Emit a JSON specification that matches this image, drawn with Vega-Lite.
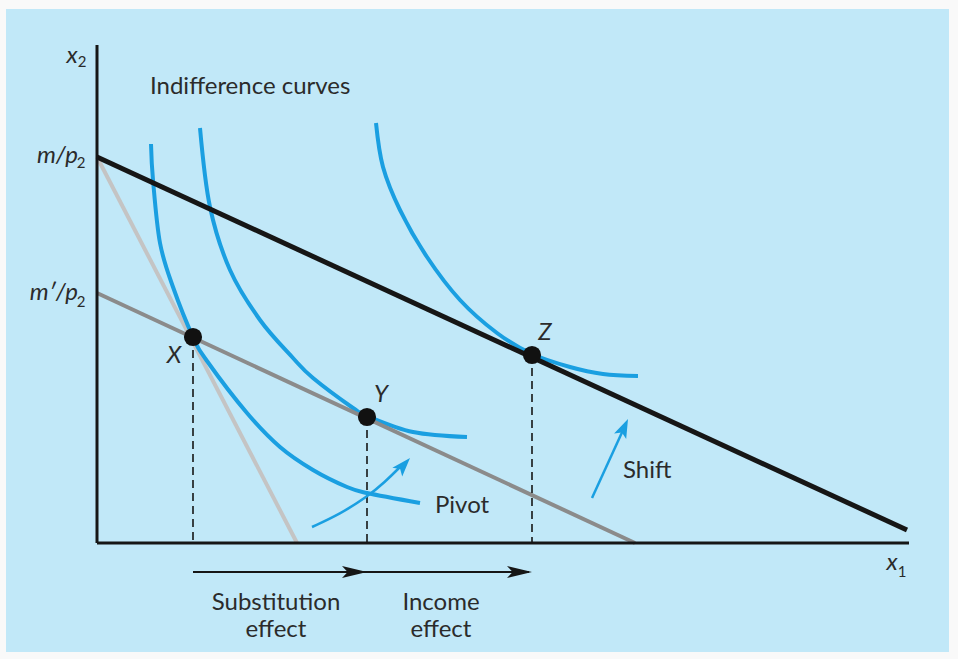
{
  "$schema": "https://vega.github.io/schema/vega-lite/v6.json",
  "width": 943,
  "height": 643,
  "autosize": {"type": "none"},
  "padding": {"left": 6, "top": 9, "right": 9, "bottom": 7},
  "background": "#f9f9f9",
  "config": {"view": {"stroke": null, "fill": "#c1e8f8"}},
  "datasets": {
    "curves": [
      {"curve": "I1", "x": 6.75, "y": 49.875},
      {"curve": "I1", "x": 7, "y": 45.375},
      {"curve": "I1", "x": 7.875, "y": 37.5},
      {"curve": "I1", "x": 9.5, "y": 32},
      {"curve": "I1", "x": 12, "y": 25.75},
      {"curve": "I1", "x": 13.75, "y": 22.75},
      {"curve": "I1", "x": 18.75, "y": 16.25},
      {"curve": "I1", "x": 22.875, "y": 12},
      {"curve": "I1", "x": 27, "y": 9.125},
      {"curve": "I1", "x": 31.25, "y": 7},
      {"curve": "I1", "x": 33.75, "y": 6.25},
      {"curve": "I1", "x": 40.375, "y": 5},
      {"curve": "I2", "x": 12.875, "y": 51.875},
      {"curve": "I2", "x": 14.125, "y": 42},
      {"curve": "I2", "x": 16.625, "y": 34.125},
      {"curve": "I2", "x": 20.375, "y": 27.875},
      {"curve": "I2", "x": 24.5, "y": 23.125},
      {"curve": "I2", "x": 27, "y": 20.625},
      {"curve": "I2", "x": 32, "y": 16.875},
      {"curve": "I2", "x": 33.75, "y": 15.875},
      {"curve": "I2", "x": 39.5, "y": 13.875},
      {"curve": "I2", "x": 46.25, "y": 13.25},
      {"curve": "I3", "x": 34.875, "y": 52.5},
      {"curve": "I3", "x": 35.75, "y": 47},
      {"curve": "I3", "x": 37.875, "y": 41.625},
      {"curve": "I3", "x": 41.25, "y": 35.75},
      {"curve": "I3", "x": 45.375, "y": 30.375},
      {"curve": "I3", "x": 50, "y": 26.25},
      {"curve": "I3", "x": 54.375, "y": 23.625},
      {"curve": "I3", "x": 59.125, "y": 22},
      {"curve": "I3", "x": 63.25, "y": 21.125},
      {"curve": "I3", "x": 67.625, "y": 20.875}
    ],
    "budget": [
      {"line": "steep", "x": 0, "y": 48.25, "x2": 25, "y2": 0},
      {"line": "compensated", "x": 0, "y": 31.25, "x2": 67.25, "y2": 0},
      {"line": "original", "x": 0, "y": 48.25, "x2": 101.25, "y2": 1.625}
    ],
    "axes": [
      {"axis": "x2", "x": 0, "y": 0, "x2": 0, "y2": 62.25},
      {"axis": "x1", "x": 0, "y": 0, "x2": 101.5, "y2": 0}
    ],
    "drops": [
      {"point": "X", "x": 12, "y": 25.75, "x2": 12, "y2": 0},
      {"point": "Y", "x": 33.75, "y": 15.75, "x2": 33.75, "y2": 0},
      {"point": "Z", "x": 54.375, "y": 23.5, "x2": 54.375, "y2": 0}
    ],
    "points": [
      {"point": "X", "x": 12, "y": 25.75},
      {"point": "Y", "x": 33.75, "y": 15.75},
      {"point": "Z", "x": 54.375, "y": 23.5}
    ],
    "pivot": [
      {"x": 26.875, "y": 2},
      {"x": 30.375, "y": 3.625},
      {"x": 33.75, "y": 5.75},
      {"x": 36, "y": 7.625},
      {"x": 37.875, "y": 9.5}
    ],
    "pivotHead": [{"x": 39.125, "y": 10.625}],
    "shift": [{"x": 61.875, "y": 5.625, "x2": 65.875, "y2": 14.375}],
    "shiftHead": [{"x": 66.375, "y": 15.5}],
    "effects": [{"x": 12, "y": -3.625, "x2": 54, "y2": -3.625}],
    "effectHeads": [
      {"effect": "substitution", "x": 33.75, "y": -3.625},
      {"effect": "income", "x": 54.375, "y": -3.625}
    ],
    "textLeft": [
      {"label": "Indifference curves", "x": 6.625, "y": 56.125},
      {"label": "Pivot", "x": 42.25, "y": 3.75},
      {"label": "Shift", "x": 65.75, "y": 8.125}
    ],
    "textCenter": [
      {"label": "Substitution", "x": 22.375, "y": -8.375},
      {"label": "effect", "x": 22.375, "y": -11.75},
      {"label": "Income", "x": 43, "y": -8.375},
      {"label": "effect", "x": 43, "y": -11.75}
    ],
    "italicRight": [
      {"label": "m/p", "x": -2.375, "y": 47.5},
      {"label": "m′/p", "x": -2.375, "y": 30.375}
    ],
    "italicCenter": [
      {"label": "x", "x": -3.125, "y": 60},
      {"label": "X", "x": 9.625, "y": 22.5},
      {"label": "Y", "x": 35.5, "y": 17.625},
      {"label": "Z", "x": 56, "y": 25.375},
      {"label": "x", "x": 99.375, "y": -3.375}
    ],
    "subscripts": [
      {"label": "2", "x": -1.875, "y": 59.5},
      {"label": "2", "x": -2.0, "y": 46.875},
      {"label": "2", "x": -2.0, "y": 29.5},
      {"label": "1", "x": 100.625, "y": -4.25}
    ]
  },
  "encoding": {
    "x": {"field": "x", "type": "quantitative", "scale": {"domain": [-11.375, 106.5], "nice": false, "zero": false}, "axis": null},
    "y": {"field": "y", "type": "quantitative", "scale": {"domain": [-13.625, 66.75], "nice": false, "zero": false}, "axis": null}
  },
  "layer": [
    {
      "data": {"name": "budget"},
      "transform": [{"filter": "datum.line === 'steep'"}],
      "mark": {"type": "rule", "color": "#c4c4c4", "strokeWidth": 4},
      "encoding": {"x2": {"field": "x2"}, "y2": {"field": "y2"}}
    },
    {
      "data": {"name": "curves"},
      "mark": {"type": "line", "color": "#1a9fe1", "strokeWidth": 4, "interpolate": "cardinal", "tension": 0},
      "encoding": {"detail": {"field": "curve", "type": "nominal"}}
    },
    {
      "data": {"name": "budget"},
      "transform": [{"filter": "datum.line === 'compensated'"}],
      "mark": {"type": "rule", "color": "#8b8b8b", "strokeWidth": 4},
      "encoding": {"x2": {"field": "x2"}, "y2": {"field": "y2"}}
    },
    {
      "data": {"name": "budget"},
      "transform": [{"filter": "datum.line === 'original'"}],
      "mark": {"type": "rule", "color": "#161616", "strokeWidth": 5},
      "encoding": {"x2": {"field": "x2"}, "y2": {"field": "y2"}}
    },
    {
      "data": {"name": "axes"},
      "mark": {"type": "rule", "color": "#161616", "strokeWidth": 3},
      "encoding": {"x2": {"field": "x2"}, "y2": {"field": "y2"}}
    },
    {
      "data": {"name": "drops"},
      "mark": {"type": "rule", "color": "#161616", "strokeWidth": 1.6, "strokeDash": [8, 5]},
      "encoding": {"x2": {"field": "x2"}, "y2": {"field": "y2"}}
    },
    {
      "data": {"name": "pivot"},
      "mark": {"type": "line", "color": "#1a9fe1", "strokeWidth": 2.5, "interpolate": "basis"},
      "encoding": {}
    },
    {
      "data": {"name": "pivotHead"},
      "mark": {"type": "point", "shape": "M0,0L0.7,2L0,1.55L-0.7,2Z", "filled": true, "opacity": 1, "color": "#1a9fe1", "size": 361, "angle": 42, "strokeWidth": 0}
    },
    {
      "data": {"name": "shift"},
      "mark": {"type": "rule", "color": "#1a9fe1", "strokeWidth": 2.5},
      "encoding": {"x2": {"field": "x2"}, "y2": {"field": "y2"}}
    },
    {
      "data": {"name": "shiftHead"},
      "mark": {"type": "point", "shape": "M0,0L0.7,2L0,1.55L-0.7,2Z", "filled": true, "opacity": 1, "color": "#1a9fe1", "size": 361, "angle": 24.5, "strokeWidth": 0}
    },
    {
      "data": {"name": "effects"},
      "mark": {"type": "rule", "color": "#161616", "strokeWidth": 2},
      "encoding": {"x2": {"field": "x2"}, "y2": {"field": "y2"}}
    },
    {
      "data": {"name": "effectHeads"},
      "mark": {"type": "point", "shape": "M0,0L0.48,2L0,1.55L-0.48,2Z", "filled": true, "opacity": 1, "color": "#161616", "size": 625, "angle": 90, "strokeWidth": 0}
    },
    {
      "data": {"name": "points"},
      "mark": {"type": "point", "shape": "circle", "filled": true, "opacity": 1, "color": "#111111", "size": 330, "strokeWidth": 0}
    },
    {
      "data": {"name": "textLeft"},
      "mark": {"type": "text", "font": "Lato", "fontSize": 24, "color": "#2b2b2b", "align": "left", "baseline": "alphabetic"},
      "encoding": {"text": {"field": "label"}}
    },
    {
      "data": {"name": "textCenter"},
      "mark": {"type": "text", "font": "Lato", "fontSize": 24, "color": "#2b2b2b", "align": "center", "baseline": "alphabetic"},
      "encoding": {"text": {"field": "label"}}
    },
    {
      "data": {"name": "italicRight"},
      "mark": {"type": "text", "font": "Lato", "fontSize": 24, "fontStyle": "italic", "color": "#2b2b2b", "align": "right", "baseline": "alphabetic"},
      "encoding": {"text": {"field": "label"}}
    },
    {
      "data": {"name": "italicCenter"},
      "mark": {"type": "text", "font": "Lato", "fontSize": 24, "fontStyle": "italic", "color": "#2b2b2b", "align": "center", "baseline": "alphabetic"},
      "encoding": {"text": {"field": "label"}}
    },
    {
      "data": {"name": "subscripts"},
      "mark": {"type": "text", "font": "Lato", "fontSize": 15, "color": "#2b2b2b", "align": "center", "baseline": "alphabetic"},
      "encoding": {"text": {"field": "label"}}
    }
  ]
}
